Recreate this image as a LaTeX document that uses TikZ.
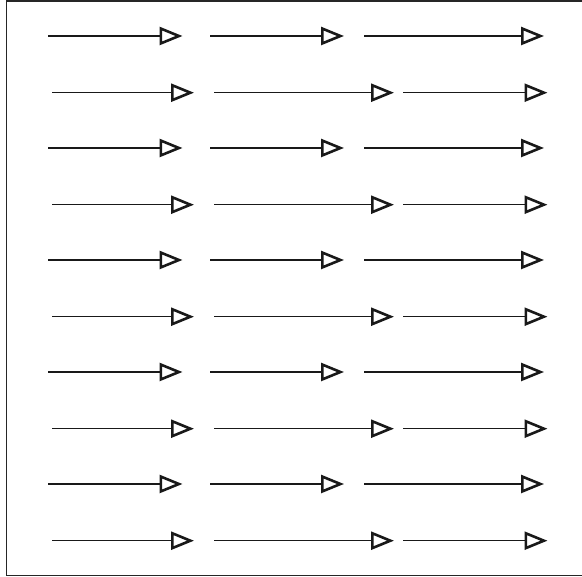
\documentclass[tikz,border=0pt]{standalone}
\usetikzlibrary{arrows.meta}
\begin{document}
\begin{tikzpicture}[x=1pt,y=-1pt,
  flow/.style={line width=1.2pt, draw=black!90,
    -{Triangle[open,length=23pt,width=18pt,line width=2.6pt]}},
  frame/.style={line width=1.3pt, draw=black!85}]
\useasboundingbox (0,0) rectangle (582,577);
\draw[frame] (6.7,1) rectangle (595,575.7);
\foreach \r in {0,...,4}{
  \pgfmathsetmacro{\yo}{36+112*\r}
  \pgfmathsetmacro{\ye}{92.7+112*\r}
  \coordinate (a\r) at (48.3,\yo);  \coordinate (b\r) at (182.5,\yo);
  \coordinate (c\r) at (210,\yo);   \coordinate (d\r) at (344,\yo);
  \coordinate (e\r) at (364,\yo);   \coordinate (f\r) at (544,\yo);
  \coordinate (g\r) at (52.3,\ye);  \coordinate (h\r) at (194,\ye);
  \coordinate (i\r) at (214,\ye);   \coordinate (j\r) at (394,\ye);
  \coordinate (k\r) at (403.3,\ye); \coordinate (l\r) at (547.5,\ye);
  \draw[flow] (a\r) -- (b\r);
  \draw[flow] (c\r) -- (d\r);
  \draw[flow] (e\r) -- (f\r);
  \draw[flow] (g\r) -- (h\r);
  \draw[flow] (i\r) -- (j\r);
  \draw[flow] (k\r) -- (l\r);
}
\end{tikzpicture}
\end{document}
